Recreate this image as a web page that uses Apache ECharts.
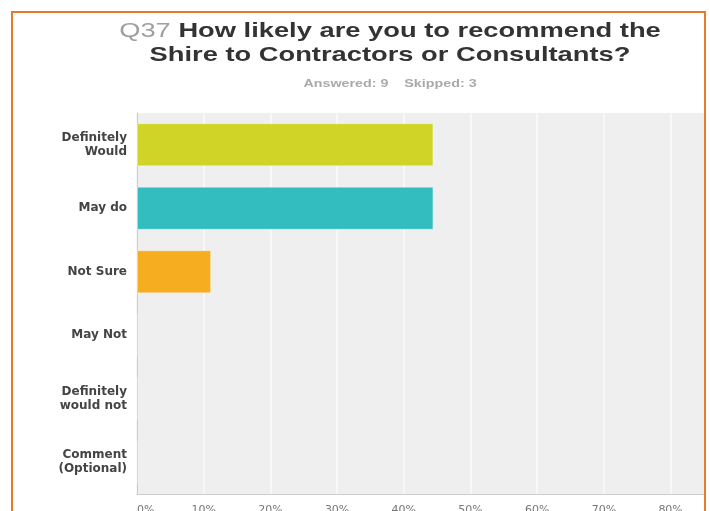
<!DOCTYPE html>
<html>
<head>
<meta charset="utf-8">
<script src="https://cdn.jsdelivr.net/npm/echarts@6/dist/echarts.min.js"></script>
<style>
html,body{margin:0;padding:0;background:#fff;}
#chart{width:710px;height:511px;}
</style>
</head>
<body>
<div id="chart"></div>
<script>
var categories = ['Definitely\nWould', 'May do', 'Not Sure', 'May Not', 'Definitely\nwould not', 'Comment\n(Optional)'];
var values = [44.44, 44.44, 11.11, 0, 0, 0];
var barColors = ['#d0d426', '#33bdbf', '#f6ad1f', '#999999', '#999999', '#999999'];
var xTicks = [0, 10, 20, 30, 40, 50, 60, 70, 80, 90, 100];
var questionNo = 'Q37';
var titleLines = ['How likely are you to recommend the', 'Shire to Contractors or Consultants?'];
var answered = 9, skipped = 3;

var chart = echarts.init(document.getElementById('chart'));
chart.setOption({
  animation: false,
  backgroundColor: '#ffffff',
  graphic: [{
    type: 'text', silent: true, x: 390, y: 19, scaleX: 1.3, scaleY: 1,
    style: {
      text: '{q|' + questionNo + '} {t|' + titleLines[0] + '}\n{t|' + titleLines[1] + '}',
      x: 0, y: 0, align: 'center', verticalAlign: 'top',
      fontFamily: 'Liberation Sans', fontWeight: 'bold', fontSize: 21, lineHeight: 24,
      rich: {
        q: { fill: '#a0a0a0', fontFamily: 'Liberation Sans', fontWeight: 'normal', fontSize: 21, lineHeight: 24 },
        t: { fill: '#333333', fontFamily: 'Liberation Sans', fontWeight: 'bold', fontSize: 21, lineHeight: 24 }
      }
    }
  }, {
    type: 'text', silent: true, x: 390, y: 78, scaleX: 1.3, scaleY: 1,
    style: {
      text: 'Answered: ' + answered + '    Skipped: ' + skipped,
      x: 0, y: 0, align: 'center', verticalAlign: 'top',
      fontFamily: 'Liberation Sans', fontWeight: 'bold', fontSize: 11, fill: '#aaaaaa'
    }
  }, {
    type: 'rect', silent: true, z: 99,
    shape: { x: 706, y: 0, width: 10, height: 520 },
    style: { fill: '#ffffff' }
  }, {
    type: 'rect', silent: true, z: 100,
    shape: { x: 12, y: 12, width: 693, height: 540 },
    style: { fill: 'none', stroke: '#e8782a', lineWidth: 2 }
  }],
  grid: {
    left: 137, top: 113, width: 667, height: 381,
    outerBoundsMode: 'none', containLabel: false,
    show: true, backgroundColor: '#efefef', borderWidth: 0
  },
  xAxis: {
    type: 'value', min: 0, max: 100, interval: 10,
    axisLine: { show: true, lineStyle: { color: '#cccccc', width: 1 } },
    axisTick: { show: false },
    splitLine: { show: true, lineStyle: { color: '#f8f8f8', width: 2 } },
    axisLabel: {
      formatter: '{value}%', margin: 11, fontFamily: 'DejaVu Sans', fontSize: 11,
      color: '#777777', verticalAlign: 'top', alignMinLabel: 'left'
    }
  },
  yAxis: {
    type: 'category', data: categories, inverse: true,
    axisLine: { show: true, lineStyle: { color: '#cccccc', width: 1 } },
    axisTick: { show: false },
    axisLabel: {
      margin: 10, fontFamily: 'DejaVu Sans', fontSize: 12, fontWeight: 'bold',
      color: '#444444', lineHeight: 14, align: 'right'
    }
  },
  series: [{
    type: 'bar', barWidth: 43,
    data: values.map(function (v, i) {
      return { value: v, itemStyle: { color: barColors[i], borderColor: 'rgba(255,255,255,0.35)', borderWidth: 1 } };
    })
  }]
});
</script>
</body>
</html>
